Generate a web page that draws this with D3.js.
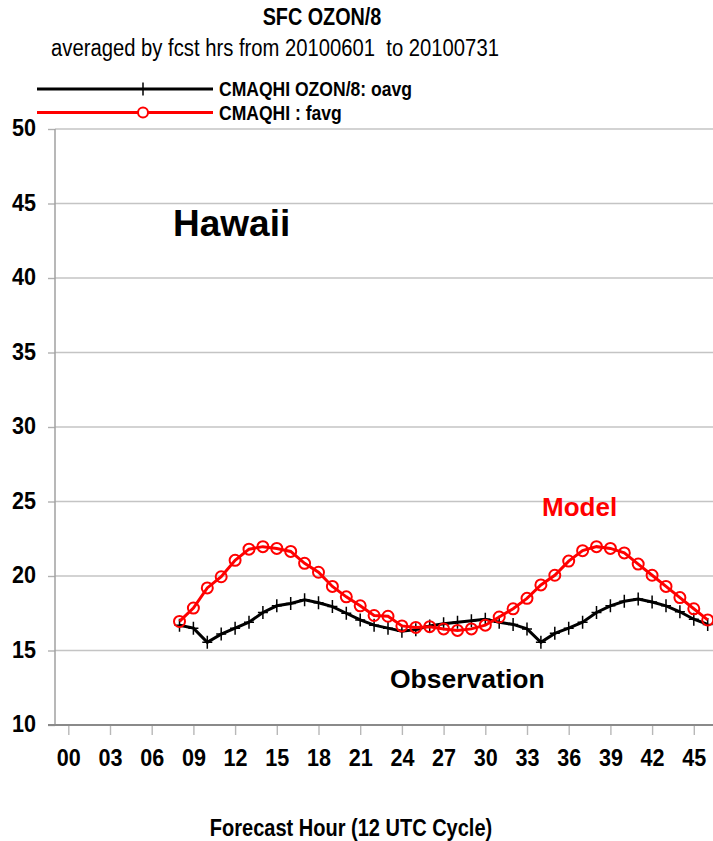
<!DOCTYPE html>
<html>
<head>
<meta charset="utf-8">
<script src="https://cdn.jsdelivr.net/npm/d3@7"></script>
<style>
  html, body { margin: 0; padding: 0; background: #fff; }
  svg { display: block; }
  text { font-family: "Liberation Sans", Arial, sans-serif; fill: #000; }
  .wide { font-weight: bold; }
</style>
</head>
<body>
<svg id="chart" width="713" height="841"></svg>
<script>
// Forecast hours (12 UTC cycle) and hourly averages of surface ozone / 8
const hours = [8, 9, 10, 11, 12, 13, 14, 15, 16, 17, 18, 19, 20, 21, 22, 23, 24, 25, 26, 27,
               28, 29, 30, 31, 32, 33, 34, 35, 36, 37, 38, 39, 40, 41, 42, 43, 44, 45, 46];

// Observed average (oavg)
const obsAvg = [16.7, 16.5, 15.55, 16.1, 16.5, 16.9, 17.55, 18.0, 18.15, 18.4, 18.2, 17.95, 17.5, 17.05, 16.7, 16.5, 16.3, 16.4, 16.65, 16.8,
                16.9, 17.0, 17.1, 16.9, 16.75, 16.45, 15.55, 16.15, 16.5, 16.9, 17.55, 18.0, 18.3, 18.45, 18.25, 18.0, 17.6, 17.1, 16.75];

// Model forecast average (favg)
const modelAvg = [16.95, 17.85, 19.2, 19.95, 21.05, 21.8, 21.97, 21.85, 21.65, 20.85, 20.25, 19.3, 18.6, 18.0, 17.35, 17.3, 16.65, 16.55, 16.6, 16.45,
                  16.35, 16.45, 16.7, 17.25, 17.8, 18.5, 19.4, 20.05, 21.0, 21.7, 21.97, 21.85, 21.55, 20.8, 20.05, 19.3, 18.55, 17.8, 17.05];

const xTicks = [0, 3, 6, 9, 12, 15, 18, 21, 24, 27, 30, 33, 36, 39, 42, 45];
const xTickLabels = ["00", "03", "06", "09", "12", "15", "18", "21", "24", "27", "30", "33", "36", "39", "42", "45"];
const yTicks = [10, 15, 20, 25, 30, 35, 40, 45, 50];

const seriesNames = ["CMAQHI OZON/8: oavg", "CMAQHI : favg"];

const plotLeft = 55, plotRight = 713;
const svg = d3.select("#chart");

const x = d3.scaleLinear().domain([0, 45]).range([68.3, 693.8]);
const y = d3.scaleLinear().domain([10, 50]).range([725, 129]);

// Squeeze text horizontally to get a condensed face
function narrow(sel, k) {
  sel.each(function () {
    const w = this.getComputedTextLength();
    d3.select(this).attr("textLength", (w * k).toFixed(1)).attr("lengthAdjust", "spacingAndGlyphs");
  });
  return sel;
}

// Titles
narrow(svg.append("text").attr("x", 322).attr("y", 25).attr("text-anchor", "middle")
  .attr("font-size", 23).attr("font-weight", "bold").text("SFC OZON/8"), 0.86);
narrow(svg.append("text").attr("x", 275).attr("y", 56).attr("text-anchor", "middle")
  .attr("font-size", 23).text("averaged by fcst hrs from 20100601 \u00a0to 20100731"), 0.88);

// Horizontal grid
svg.append("g").selectAll("line").data(yTicks.filter(d => d > 10)).join("line")
  .attr("x1", plotLeft).attr("x2", plotRight)
  .attr("y1", d => y(d)).attr("y2", d => y(d))
  .attr("stroke", "#c4c4c4").attr("stroke-width", 1.4);

// Y axis with short outer ticks
const yAxis = svg.append("g").attr("transform", `translate(${plotLeft},0)`)
  .call(d3.axisLeft(y).tickValues(yTicks).tickSize(7).tickPadding(12));
yAxis.select(".domain").remove();
yAxis.selectAll(".tick line").attr("stroke", "#b0b0b0").attr("stroke-width", 1.4);
narrow(yAxis.selectAll(".tick text").attr("font-size", 24).attr("font-weight", "bold")
  .attr("fill", "#000").attr("dy", "0.28em")
  .style("font-family", '"Liberation Sans", Arial, sans-serif'), 0.9);

// Left axis line
svg.append("line").attr("x1", plotLeft).attr("x2", plotLeft)
  .attr("y1", y(50)).attr("y2", y(10))
  .attr("stroke", "#a0a0a0").attr("stroke-width", 1.5);

// X axis
const xAxis = svg.append("g").attr("transform", `translate(0,${y(10)})`)
  .call(d3.axisBottom(x).tickValues(xTicks).tickSize(10).tickPadding(14)
    .tickFormat((d, i) => xTickLabels[i]));
xAxis.select(".domain").remove();
xAxis.selectAll(".tick line").attr("stroke", "#b8b8b8").attr("stroke-width", 1.4);
narrow(xAxis.selectAll(".tick text").attr("font-size", 24).attr("font-weight", "bold")
  .attr("fill", "#000")
  .style("font-family", '"Liberation Sans", Arial, sans-serif'), 0.9);

svg.append("line").attr("x1", 48).attr("x2", plotRight)
  .attr("y1", y(10)).attr("y2", y(10))
  .attr("stroke", "#8a8a8a").attr("stroke-width", 2);

// X axis title
narrow(svg.append("text").attr("x", 351).attr("y", 836).attr("text-anchor", "middle")
  .attr("font-size", 23).attr("font-weight", "bold").text("Forecast Hour (12 UTC Cycle)"), 0.87);

// Series
const plot = svg.append("g");
const line = d3.line().x(d => x(d[0])).y(d => y(d[1]));
const obsPts = hours.map((h, i) => [h, obsAvg[i]]);
const modPts = hours.map((h, i) => [h, modelAvg[i]]);

function plusPath(cx, cy) {
  return `M${cx - 5},${cy}H${cx + 5}M${cx},${cy - 6.5}V${cy + 6.5}`;
}

plot.append("path").datum(obsPts).attr("d", line)
  .attr("fill", "none").attr("stroke", "#000").attr("stroke-width", 3);
plot.append("g").selectAll("path").data(obsPts).join("path")
  .attr("d", d => plusPath(x(d[0]), y(d[1])))
  .attr("stroke", "#000").attr("stroke-width", 1.5).attr("fill", "none");

plot.append("path").datum(modPts).attr("d", line)
  .attr("fill", "none").attr("stroke", "#ff0000").attr("stroke-width", 3);
plot.append("g").selectAll("circle").data(modPts).join("circle")
  .attr("cx", d => x(d[0])).attr("cy", d => y(d[1])).attr("r", 5.5)
  .attr("fill", "none").attr("stroke", "#ff0000").attr("stroke-width", 2);

// Legend
const legend = svg.append("g");
const legY = [89, 112.5];
legend.append("line").attr("x1", 37).attr("x2", 213).attr("y1", legY[0]).attr("y2", legY[0])
  .attr("stroke", "#000").attr("stroke-width", 3);
legend.append("path").attr("d", plusPath(143, legY[0]))
  .attr("stroke", "#000").attr("stroke-width", 1.5);
legend.append("line").attr("x1", 37).attr("x2", 213).attr("y1", legY[1]).attr("y2", legY[1])
  .attr("stroke", "#ff0000").attr("stroke-width", 3);
legend.append("circle").attr("cx", 143).attr("cy", legY[1]).attr("r", 5)
  .attr("fill", "#fff").attr("stroke", "#ff0000").attr("stroke-width", 2);
narrow(legend.selectAll("text.leg").data(seriesNames).join("text").attr("class", "leg")
  .attr("x", 219).attr("y", (d, i) => legY[i] + 7)
  .attr("font-size", 21).attr("font-weight", "bold").text(d => d), 0.835);

// Annotations
svg.append("text").attr("class", "wide").attr("x", 173).attr("y", 236)
  .attr("font-size", 37).text("Hawaii");
svg.append("text").attr("class", "wide").attr("x", 542).attr("y", 516)
  .attr("font-size", 26).attr("fill", "#ff0000").style("fill", "#ff0000").text("Model");
svg.append("text").attr("class", "wide").attr("x", 390).attr("y", 688)
  .attr("font-size", 26.5).text("Observation");
</script>
</body>
</html>
